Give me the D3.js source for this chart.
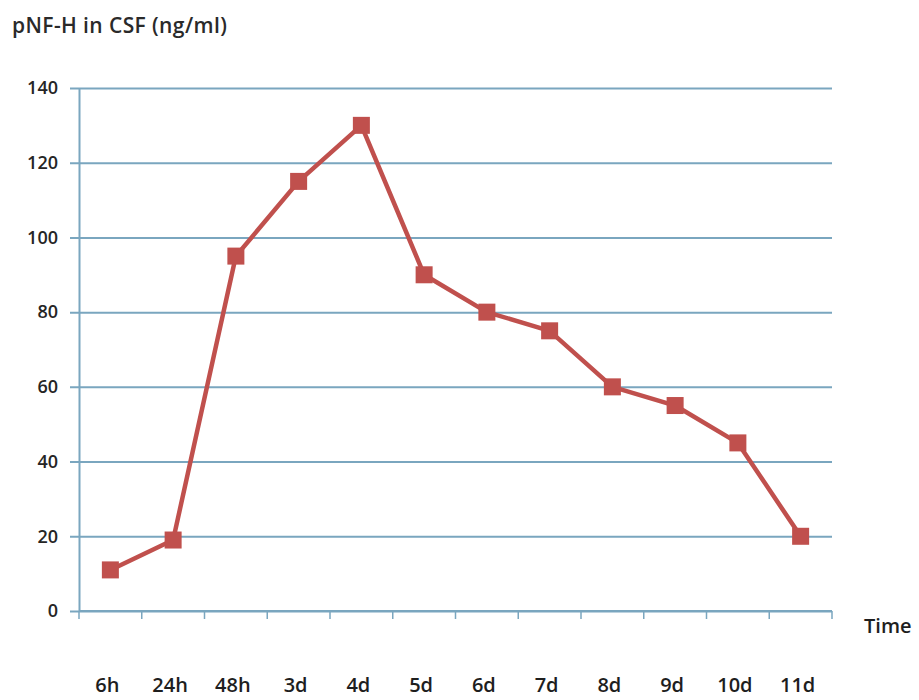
<!DOCTYPE html>
<html>
<head>
<meta charset="utf-8">
<script src="https://cdn.jsdelivr.net/npm/d3@7"></script>
<style>
  body { margin: 0; background: #fff; }
  text { font-family: "Open Sans", "Liberation Sans", sans-serif; }
</style>
</head>
<body>
<svg id="chart" width="919" height="700"></svg>
<script>
  const times = ["6h", "24h", "48h", "3d", "4d", "5d", "6d", "7d", "8d", "9d", "10d", "11d"];
  const values = [11, 19, 95, 115, 130, 90, 80, 75, 60, 55, 45, 20];
  const yTicks = [0, 20, 40, 60, 80, 100, 120, 140];

  const data = times.map((t, i) => ({ time: t, value: values[i] }));

  const svg = d3.select("#chart");
  const margin = { top: 88, right: 87, bottom: 89, left: 79 };
  const width = 919 - margin.left - margin.right;
  const height = 700 - margin.top - margin.bottom;

  const gridColor = "#7aa6bf";
  const lineColor = "#c0504d";

  const g = svg.append("g")
    .attr("transform", `translate(${margin.left},${margin.top})`);

  const x = d3.scaleBand()
    .domain(times)
    .range([0, width]);

  const y = d3.scaleLinear()
    .domain([0, 140])
    .range([height, 0]);

  // horizontal grid + y axis
  const yAxis = g.append("g")
    .call(d3.axisLeft(y).tickValues(yTicks).tickSize(-width).tickSizeOuter(0).tickPadding(21));
  yAxis.select(".domain").attr("stroke", gridColor).attr("stroke-width", 2);
  yAxis.selectAll(".tick line")
    .attr("stroke", gridColor)
    .attr("stroke-width", 2)
    .attr("x1", -9);
  yAxis.selectAll(".tick text")
    .attr("fill", "#252525")
    .style("font-size", "18px")
    .style("font-weight", "600")
    .style("font-family", "'Open Sans', sans-serif");

  // bottom axis with ticks at band edges
  const xAxis = g.append("g")
    .attr("transform", `translate(0,${height})`);
  xAxis.append("line")
    .attr("x1", 0).attr("x2", width)
    .attr("stroke", gridColor).attr("stroke-width", 2);
  xAxis.selectAll(".xtick")
    .data(times.concat(["end"]))
    .enter()
    .append("line")
    .attr("x1", (d, i) => i < times.length ? x(d) : width)
    .attr("x2", (d, i) => i < times.length ? x(d) : width)
    .attr("y1", 0).attr("y2", 8)
    .attr("stroke", gridColor).attr("stroke-width", 1.5);

  // category labels, far below axis
  g.selectAll(".xlabel")
    .data(times)
    .enter()
    .append("text")
    .attr("x", d => x(d) + x.bandwidth() / 2 - 3)
    .attr("y", height + 81)
    .attr("text-anchor", "middle")
    .attr("fill", "#1e1e1e")
    .style("font-size", "20px")
    .style("font-weight", "600")
    .text(d => d);

  const line = d3.line()
    .x(d => x(d.time) + x.bandwidth() / 2)
    .y(d => y(d.value));

  g.append("path")
    .datum(data)
    .attr("fill", "none")
    .attr("stroke", lineColor)
    .attr("stroke-width", 4.5)
    .attr("stroke-linejoin", "round")
    .attr("d", line);

  const ms = 17;
  g.selectAll(".marker")
    .data(data)
    .enter()
    .append("rect")
    .attr("x", d => x(d.time) + x.bandwidth() / 2 - ms / 2)
    .attr("y", d => y(d.value) - ms / 2)
    .attr("width", ms)
    .attr("height", ms)
    .attr("fill", lineColor);

  // titles
  svg.append("text")
    .attr("x", 12)
    .attr("y", 33)
    .attr("fill", "#2a2a2a")
    .style("font-size", "21px")
    .style("font-weight", "600")
    .style("letter-spacing", "0.4px")
    .text("pNF-H in CSF (ng/ml)");

  svg.append("text")
    .attr("x", 864)
    .attr("y", 633)
    .attr("fill", "#1e1e1e")
    .style("font-size", "20px")
    .style("font-weight", "600")
    .text("Time");
</script>
</body>
</html>
